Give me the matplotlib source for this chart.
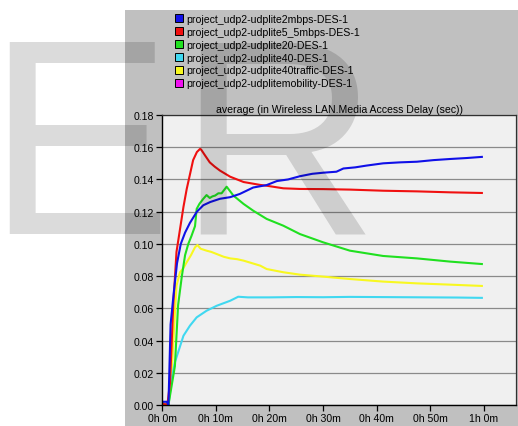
import numpy as np
import matplotlib
matplotlib.use("Agg")
import matplotlib.pyplot as plt
from matplotlib.patches import Rectangle
from matplotlib.lines import Line2D

plt.rcParams["font.family"] = ["Liberation Sans", "DejaVu Sans"]
plt.rcParams["font.size"] = 7.6

# Wireless LAN media access delay, averaged (sec) vs simulation time (minutes)
t_2mbps = [0, 0.9, 1.2, 1.6, 2.2, 2.8, 3.5, 4.3, 5.2, 6.5, 7.7, 9.0, 10.8, 12.7, 14.5,
           17.0, 19.5, 21.4, 23.5, 25.7, 28.0, 30.1, 32.5, 33.8, 36.0, 38.1, 41.2,
           44.3, 47.5, 50.6, 53.7, 56.8, 59.6]
d_2mbps = [0.002, 0.002, 0.0, 0.050, 0.070, 0.088, 0.100, 0.107, 0.113, 0.120, 0.124,
           0.126, 0.128, 0.129, 0.131, 0.135, 0.1365, 0.139, 0.140, 0.142, 0.1435,
           0.1442, 0.1448, 0.1468, 0.1475, 0.1486, 0.150, 0.1506, 0.151, 0.152,
           0.1527, 0.1533, 0.154]

t_5_5mbps = [0, 1.0, 1.5, 2.1, 2.7, 3.35, 4.0, 4.6, 5.2, 5.8, 6.5, 7.1, 7.3, 8.0, 8.9,
             9.8, 10.8, 12.7, 15.2, 18.3, 19.5, 22.6, 25.7, 30.0, 35.0, 41.2, 47.5,
             53.7, 59.6]
d_5_5mbps = [0.001, 0.0, 0.014, 0.062, 0.095, 0.109, 0.123, 0.134, 0.143, 0.152, 0.157,
             0.159, 0.1585, 0.155, 0.1506, 0.148, 0.1455, 0.1417, 0.1384, 0.1366,
             0.1361, 0.1345, 0.1341, 0.134, 0.1337, 0.133, 0.1326, 0.132, 0.1316]

t_20 = [0, 1.2, 1.8, 2.4, 3.0, 3.7, 4.3, 4.9, 5.5, 6.15, 6.46, 7.0, 7.7, 8.3, 8.9, 9.4,
        9.9, 10.5, 11.1, 12.05, 13.3, 15.2, 17.0, 19.5, 22.6, 25.7, 30.0, 35.0, 41.2,
        47.5, 53.7, 59.6]
d_20 = [0.001, 0.0, 0.012, 0.024, 0.062, 0.080, 0.093, 0.100, 0.105, 0.111, 0.1217,
        0.125, 0.128, 0.1303, 0.1285, 0.1295, 0.130, 0.1314, 0.1314, 0.1355, 0.130,
        0.1248, 0.1206, 0.1155, 0.1113, 0.1061, 0.101, 0.0958, 0.0925, 0.091, 0.089,
        0.0875]

t_40 = [0, 1.2, 1.5, 1.8, 2.4, 3.0, 4.0, 5.2, 6.46, 8.3, 10.2, 12.7, 14.2, 16.0, 20.0,
        25.0, 30.0, 35.0, 40.0, 45.0, 50.0, 55.0, 59.6]
d_40 = [0.001, 0.0, 0.008, 0.0161, 0.0265, 0.0327, 0.043, 0.0492, 0.0544, 0.0585,
        0.0616, 0.0647, 0.0672, 0.0668, 0.0668, 0.067, 0.0669, 0.0671, 0.067, 0.0669,
        0.0668, 0.0667, 0.0665]

t_40traffic = [0, 1.2, 1.8, 2.2, 2.7, 3.35, 4.0, 4.6, 5.4, 6.15, 6.6, 7.2, 8.3, 9.2,
               10.2, 11.5, 12.7, 14.0, 15.2, 16.8, 18.3, 19.5, 22.6, 25.7, 30.0, 35.0,
               41.2, 47.5, 53.7, 59.6]
d_40traffic = [0.001, 0.0, 0.020, 0.045, 0.074, 0.0824, 0.085, 0.0886, 0.093, 0.0979,
               0.0993, 0.097, 0.0958, 0.095, 0.0937, 0.092, 0.091, 0.0905, 0.0896,
               0.088, 0.0865, 0.0844, 0.0824, 0.0809, 0.0797, 0.0782, 0.0766, 0.0755,
               0.0747, 0.0739]

# mobility scenario has no samples in this panel
t_mobility = []
d_mobility = []

labels = ["project_udp2-udplite2mbps-DES-1",
          "project_udp2-udplite5_5mbps-DES-1",
          "project_udp2-udplite20-DES-1",
          "project_udp2-udplite40-DES-1",
          "project_udp2-udplite40traffic-DES-1",
          "project_udp2-udplitemobility-DES-1"]
colors = ["#1010e8", "#f01010", "#20e020", "#40d8f0", "#f8f820", "#f010f0"]

xticks = [0, 10, 20, 30, 40, 50, 60]
xticklabels = ["0h 0m", "0h 10m", "0h 20m", "0h 30m", "0h 40m", "0h 50m", "1h 0m"]
yticks = np.arange(0, 0.181, 0.02)

W, H = 518, 427
fig = plt.figure(figsize=(W / 100, H / 100), dpi=100)
fig.patch.set_facecolor("white")
fig.patches.append(Rectangle((125 / W, 0), 1 - 125 / W, 1 - 11 / H,
                             transform=fig.transFigure, facecolor="#c0c0c0",
                             edgecolor="none", zorder=-5))

ax = fig.add_axes([162 / W, 1 - 406 / H, (516 - 162) / W, (406 - 116) / H])
ax.set_facecolor("#f0f0f0")

series = [(t_2mbps, d_2mbps), (t_5_5mbps, d_5_5mbps), (t_20, d_20),
          (t_40, d_40), (t_40traffic, d_40traffic), (t_mobility, d_mobility)]
# draw in reverse so the first scenario ends on top
for (tt, dd), c in reversed(list(zip(series, colors))):
    ax.plot(tt, dd, color=c, lw=1.5, solid_joinstyle="round")

ax.set_xlim(0, 65.96)
ax.set_ylim(0, 0.18)
ax.set_xticks(xticks)
ax.set_xticklabels(xticklabels)
ax.set_yticks(yticks)
ax.set_yticklabels([f"{v:.2f}" for v in yticks])
ax.yaxis.grid(True, color="#8a8a8a", lw=0.9)
ax.set_axisbelow(True)
ax.tick_params(direction="out", length=4, width=0.9, colors="black", pad=2)
for side in ["left", "bottom"]:
    ax.spines[side].set_color("black")
    ax.spines[side].set_linewidth(1.0)
for side in ["top", "right"]:
    ax.spines[side].set_color("#303030")
    ax.spines[side].set_linewidth(0.9)
ax.set_title("average (in Wireless LAN.Media Access Delay (sec))", fontsize=7.6, pad=2)

handles = [Line2D([], [], ls="none", marker="s", markersize=6.3, markerfacecolor=c,
                  markeredgecolor="black", markeredgewidth=0.7) for c in colors]
fig.legend(handles, labels, loc="upper left", bbox_to_anchor=(174.7 / W, 1 - 15 / H),
           frameon=False, fontsize=7.6, borderpad=0, borderaxespad=0,
           handlelength=0.9, handletextpad=0.21, labelspacing=0.27)

# faint watermark letters across the upper left
fig.text(-14 / W, 1 - 234 / H, "E", fontsize=200, color="black", alpha=0.14,
         ha="left", va="baseline", zorder=10)
fig.text(177 / W, 1 - 234 / H, "R", fontsize=200, color="black", alpha=0.14,
         ha="left", va="baseline", zorder=10)

fig.savefig("out.png", dpi=100)
